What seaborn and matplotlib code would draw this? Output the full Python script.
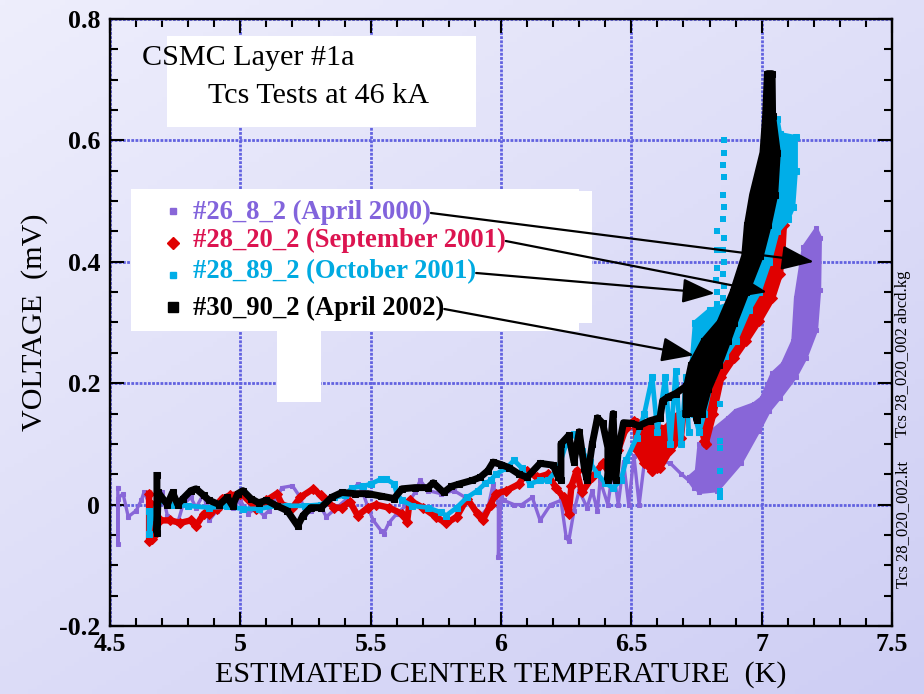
import numpy as np
import pandas as pd
import matplotlib
matplotlib.use("Agg")
import matplotlib.pyplot as plt
from matplotlib.patches import Rectangle
from matplotlib.ticker import MultipleLocator, FuncFormatter
import seaborn as sns

# ---------------------------------------------------------------------------
# Measured traces: (estimated centre temperature [K], voltage [mV])
# "_low" lists are the traced sweeps, "_band" lists outline the dense
# transition region where many samples pile on top of each other.
# ---------------------------------------------------------------------------
series_labels = ["#26_8_2 (April 2000)", "#28_20_2 (September 2001)",
                 "#28_89_2 (October 2001)", "#30_90_2 (April 2002)"]

# Run #26_8_2 (April 2000)
run26_low = [(4.53, 0.028), (4.53, -0.065), (4.53, 0.01), (4.55, 0.018), (4.57, -0.02),
             (4.60, -0.01), (4.62, 0.007), (4.63, 0.02), (4.65, 0.003), (4.67, -0.003),
             (4.70, 0.02), (4.72, -0.018), (4.76, -0.03), (4.78, 0.0), (4.81, 0.012),
             (4.83, -0.005), (4.86, 0.018), (4.88, -0.026), (4.91, -0.01), (4.94, 0.007),
             (4.97, -0.005), (5.00, 0.007), (5.03, -0.015), (5.06, -0.005), (5.09, -0.018),
             (5.11, -0.01), (5.14, 0.012), (5.16, 0.028), (5.20, 0.031), (5.23, 0.012),
             (5.25, -0.015), (5.27, -0.01), (5.31, -0.005), (5.33, -0.02), (5.37, -0.005),
             (5.41, 0.01), (5.45, 0.034), (5.47, 0.02), (5.49, -0.005), (5.51, -0.026),
             (5.54, -0.043), (5.55, -0.048), (5.57, -0.03), (5.60, -0.015), (5.64, 0.0),
             (5.67, 0.02), (5.69, 0.04), (5.72, 0.023), (5.77, 0.018), (5.82, 0.023),
             (5.87, 0.01), (5.92, -0.02), (5.95, -0.005), (5.97, 0.034), (5.99, 0.0),
             (5.99, -0.087), (6.00, 0.018), (6.01, 0.007), (6.05, 0.0), (6.08, 0.0),
             (6.12, 0.012), (6.15, -0.026), (6.19, 0.0), (6.23, 0.007), (6.25, -0.054),
             (6.26, -0.06), (6.28, -0.01), (6.30, 0.023), (6.33, -0.005), (6.35, 0.023),
             (6.37, -0.01), (6.38, 0.04), (6.41, 0.0), (6.43, 0.06), (6.45, 0.0),
             (6.47, 0.07), (6.49, 0.0), (6.51, 0.08), (6.53, 0.0), (6.55, 0.07),
             (6.56, 0.08), (6.60, 0.073), (6.65, 0.068), (6.69, 0.051), (6.72, 0.04),
             (6.74, 0.028)]
run26_band = [(6.72, 0.045), (6.75, 0.056), (6.76, 0.10), (6.81, 0.122), (6.87, 0.143),
              (6.90, 0.155), (6.97, 0.166), (7.00, 0.176), (7.04, 0.216), (7.08, 0.232),
              (7.12, 0.27), (7.13, 0.34), (7.16, 0.424), (7.21, 0.455), (7.225, 0.44),
              (7.222, 0.353), (7.21, 0.287), (7.17, 0.242), (7.13, 0.21), (7.07, 0.176),
              (7.03, 0.155), (6.99, 0.122), (6.92, 0.068), (6.83, 0.023), (6.76, 0.02)]

# Run #28_20_2 (September 2001)
run28s_low = [(4.65, 0.018), (4.65, -0.06), (4.66, -0.056), (4.66, 0.0), (4.67, -0.05),
              (4.69, -0.026), (4.73, -0.026), (4.77, -0.03), (4.81, -0.026), (4.83, -0.035),
              (4.86, -0.015), (4.88, -0.015), (4.91, -0.007), (4.93, 0.01), (4.96, 0.015),
              (5.00, 0.018), (5.03, 0.01), (5.06, -0.008), (5.10, 0.007), (5.14, 0.018),
              (5.16, 0.0), (5.20, -0.005), (5.23, 0.012), (5.28, 0.026), (5.31, 0.015),
              (5.33, 0.007), (5.36, -0.005), (5.39, -0.005), (5.42, 0.005), (5.45, -0.018),
              (5.49, -0.005), (5.52, 0.0), (5.57, -0.005), (5.62, -0.015), (5.64, -0.028),
              (5.65, 0.007), (5.70, -0.005), (5.75, -0.02), (5.79, -0.031), (5.83, -0.02),
              (5.87, 0.01), (5.91, -0.015), (5.93, -0.026), (5.96, 0.0), (5.98, 0.018),
              (6.02, 0.023), (6.07, 0.034), (6.10, 0.056), (6.14, 0.045), (6.18, 0.05),
              (6.21, 0.028), (6.24, 0.012), (6.26, -0.015), (6.27, 0.03), (6.29, 0.056),
              (6.31, 0.02), (6.35, 0.045), (6.39, 0.068), (6.42, 0.05), (6.45, 0.09),
              (6.48, 0.127), (6.51, 0.138), (6.53, 0.094), (6.56, 0.068), (6.58, 0.056),
              (6.60, 0.061), (6.62, 0.085), (6.65, 0.10), (6.67, 0.143), (6.70, 0.15),
              (6.75, 0.166), (6.77, 0.14), (6.78, 0.105), (6.79, 0.19)]
run28s_blob = [(6.52, 0.135), (6.58, 0.13), (6.63, 0.125), (6.67, 0.145), (6.70, 0.15),
               (6.69, 0.11), (6.65, 0.09), (6.61, 0.061), (6.58, 0.056), (6.55, 0.068),
               (6.52, 0.09)]
run28s_band = [(6.785, 0.10), (6.815, 0.15), (6.845, 0.21), (6.895, 0.242), (6.94, 0.27),
               (6.99, 0.303), (7.04, 0.34), (7.07, 0.38), (7.08, 0.42), (7.085, 0.46),
               (7.06, 0.46), (7.04, 0.40), (6.98, 0.34), (6.90, 0.29), (6.83, 0.25),
               (6.78, 0.20), (6.76, 0.14)]

# Run #28_89_2 (October 2001)
run28o_low = [(4.65, -0.01), (4.65, -0.048), (4.66, -0.02), (4.68, 0.0), (4.70, 0.007),
              (4.74, 0.0), (4.80, -0.002), (4.88, -0.005), (4.95, -0.003), (5.01, -0.007),
              (5.07, -0.007), (5.14, -0.002), (5.18, -0.002), (5.25, -0.002), (5.31, 0.0),
              (5.36, 0.012), (5.40, 0.015), (5.43, 0.028), (5.47, 0.03), (5.50, 0.034),
              (5.54, 0.042), (5.56, 0.042), (5.59, 0.034), (5.60, 0.018), (5.62, 0.007),
              (5.66, -0.002), (5.72, -0.005), (5.77, -0.013), (5.79, -0.018), (5.83, -0.005),
              (5.87, 0.012), (5.91, 0.023), (5.94, 0.035), (5.96, 0.04), (5.98, 0.05),
              (6.02, 0.06), (6.05, 0.073), (6.08, 0.06), (6.11, 0.034), (6.15, 0.04),
              (6.18, 0.04), (6.22, 0.06), (6.25, 0.10), (6.28, 0.117), (6.31, 0.089),
              (6.34, 0.07), (6.37, 0.051), (6.40, 0.035), (6.43, 0.028), (6.46, 0.04),
              (6.48, 0.073), (6.52, 0.11), (6.55, 0.15)]
run28o_cluster = [(6.55, 0.15), (6.58, 0.21), (6.60, 0.12), (6.63, 0.21), (6.65, 0.10),
                  (6.67, 0.22), (6.69, 0.10), (6.71, 0.21), (6.72, 0.12)]
run28o_band = [(6.76, 0.12), (6.78, 0.15), (6.81, 0.21), (6.86, 0.245), (6.90, 0.27),
               (6.95, 0.32), (6.99, 0.35), (7.03, 0.40), (7.06, 0.45), (7.10, 0.47),
               (7.12, 0.49), (7.13, 0.55), (7.13, 0.605), (7.07, 0.61), (7.06, 0.635),
               (7.02, 0.60), (6.98, 0.52), (6.94, 0.42), (6.88, 0.33), (6.80, 0.32),
               (6.745, 0.30), (6.73, 0.22), (6.74, 0.15)]
run28o_dots = [(6.855, 0.60), (6.855, 0.58), (6.85, 0.56), (6.855, 0.54), (6.85, 0.51),
               (6.855, 0.49), (6.85, 0.47), (6.855, 0.44), (6.85, 0.42), (6.855, 0.40),
               (6.85, 0.38), (6.855, 0.36), (6.85, 0.34), (6.83, 0.45), (6.83, 0.42),
               (6.83, 0.39), (6.825, 0.37), (6.83, 0.35), (6.83, 0.33), (6.84, 0.166),
               (6.84, 0.105), (6.84, 0.094), (6.84, 0.056), (6.84, 0.023), (6.84, 0.012)]

# Run #30_90_2 (April 2002)
run30_low = [(4.68, 0.048), (4.68, -0.046), (4.685, 0.02), (4.72, 0.0), (4.74, 0.02),
             (4.76, 0.0), (4.78, 0.01), (4.81, 0.023), (4.83, 0.026), (4.86, 0.015),
             (4.88, 0.007), (4.92, 0.0), (4.95, 0.012), (4.97, -0.002), (4.99, 0.018),
             (5.01, 0.023), (5.04, 0.01), (5.07, 0.003), (5.10, 0.007), (5.14, -0.002),
             (5.18, -0.01), (5.22, -0.035), (5.24, -0.018), (5.27, -0.005), (5.31, -0.005),
             (5.35, 0.012), (5.39, 0.02), (5.44, 0.018), (5.49, 0.018), (5.54, 0.014),
             (5.59, 0.01), (5.62, 0.026), (5.67, 0.028), (5.72, 0.028), (5.74, 0.036),
             (5.78, 0.02), (5.81, 0.03), (5.84, 0.034), (5.89, 0.04), (5.92, 0.045),
             (5.95, 0.056), (5.97, 0.07), (6.00, 0.066), (6.03, 0.061), (6.07, 0.05),
             (6.10, 0.045), (6.15, 0.068), (6.20, 0.065), (6.22, 0.045), (6.23, 0.04),
             (6.23, 0.10), (6.26, 0.114), (6.28, 0.07), (6.30, 0.12), (6.32, 0.06),
             (6.33, 0.04), (6.35, 0.10), (6.37, 0.143), (6.39, 0.134), (6.41, 0.094),
             (6.41, 0.04), (6.43, 0.15), (6.44, 0.04), (6.45, 0.09), (6.47, 0.135),
             (6.50, 0.134), (6.53, 0.13), (6.57, 0.138), (6.61, 0.143), (6.62, 0.171),
             (6.64, 0.177), (6.67, 0.183), (6.71, 0.195), (6.74, 0.20), (6.75, 0.14),
             (6.76, 0.20)]
run30_band = [(6.71, 0.15), (6.71, 0.19), (6.73, 0.23), (6.78, 0.27), (6.84, 0.30),
              (6.89, 0.35), (6.935, 0.41), (6.945, 0.46), (6.965, 0.51), (7.005, 0.58),
              (7.015, 0.64), (7.022, 0.71), (7.04, 0.71), (7.042, 0.64), (7.06, 0.58),
              (7.05, 0.51), (7.025, 0.46), (6.995, 0.41), (6.94, 0.35), (6.895, 0.30),
              (6.87, 0.27), (6.835, 0.23), (6.795, 0.19), (6.77, 0.15)]

# Where each legend entry points to on its trace
arrow_targets = [(7.20, 0.40), (7.02, 0.35), (6.82, 0.348), (6.74, 0.246)]

x_ticks = [4.5, 5, 5.5, 6, 6.5, 7, 7.5]
y_ticks = [-0.2, 0, 0.2, 0.4, 0.6, 0.8]


def strokes_frame(*strokes):
    rows = []
    for k, stroke in enumerate(strokes):
        for i, (t, v) in enumerate(stroke):
            rows.append({"T": t, "V": v, "stroke": k, "i": i})
    return pd.DataFrame(rows)


def closed(poly):
    return list(poly) + [poly[0]]


W, H = 924, 694
fig = plt.figure(figsize=(W / 100, H / 100), dpi=100)


def fx(px):
    return px / W


def fy(py):
    return 1 - py / H


# soft lavender backdrop, lighter towards the upper left
bg = fig.add_axes([0, 0, 1, 1], zorder=-10)
gx, gy = np.meshgrid(np.linspace(0, 1, 200), np.linspace(0, 1, 150))
t = (gx * 0.45 + gy * 0.55)[..., None]
c0 = np.array([238, 238, 252]) / 255
c1 = np.array([206, 206, 244]) / 255
bg.imshow(c0 + (c1 - c0) * t, aspect="auto", extent=[0, 1, 0, 1], origin="upper")
bg.set_axis_off()

ax = fig.add_axes([fx(110), fy(626), fx(892 - 110), (626 - 19) / H])
ax.set_facecolor("none")

serif = ["Liberation Serif", "DejaVu Serif"]

purple, red, cyan, black = "#8866d8", "#e00000", "#00aee8", "#000000"


def draw_run(strokes, bands, color, lw, marker, ms, z):
    for band in bands:
        xs, ys = zip(*band)
        ax.fill(xs, ys, color=color, lw=0, zorder=z)
    d = strokes_frame(*strokes, *[closed(b) for b in bands])
    sns.lineplot(data=d, x="T", y="V", units="stroke", estimator=None, sort=False,
                 color=color, lw=lw, marker=marker, ms=ms, mec=color, ax=ax,
                 legend=False, zorder=z)


draw_run([run26_low], [run26_band], purple, 2.4, "s", 3.2, 3)
draw_run([run28s_low], [run28s_blob, run28s_band], red, 4.6, "D", 4.8, 4)
draw_run([run28o_low, run28o_cluster], [run28o_band], cyan, 3.4, "s", 4.2, 5)
dots = pd.DataFrame(run28o_dots, columns=["T", "V"])
sns.scatterplot(data=dots, x="T", y="V", marker="s", s=18, color=cyan, linewidth=0,
                ax=ax, legend=False, zorder=5)
draw_run([run30_low], [run30_band], black, 5.0, "s", 4.5, 6)

# axes, ticks, grid
ax.set_xlim(4.5, 7.5)
ax.set_ylim(-0.2, 0.8)
ax.set_xticks(x_ticks)
ax.set_yticks(y_ticks)
ax.xaxis.set_minor_locator(MultipleLocator(0.1))
ax.yaxis.set_minor_locator(MultipleLocator(0.05))
fmt = FuncFormatter(lambda v, p: f"{v:g}")
ax.xaxis.set_major_formatter(fmt)
ax.yaxis.set_major_formatter(fmt)
ax.tick_params(which="both", direction="in", top=True, right=True, width=1.5,
               color="black")
ax.tick_params(which="major", length=10)
ax.tick_params(which="minor", length=5.5)
ax.tick_params(axis="y", which="major", pad=7)
ax.tick_params(axis="x", which="major", pad=5)
for lab in ax.get_xticklabels() + ax.get_yticklabels():
    lab.set_fontfamily(serif)
    lab.set_fontweight("bold")
    lab.set_fontsize(18.6)
for sp in ax.spines.values():
    sp.set_linewidth(1.7)
    sp.set_color("black")
ax.grid(True, which="major", color="#6262e0", lw=2.0, ls=(0, (1, 0.5)), zorder=1)
ax.set_axisbelow(True)

ax.set_xlabel("ESTIMATED CENTER TEMPERATURE  (K)", fontfamily=serif, fontsize=21.7,
              labelpad=4)
ax.set_ylabel("VOLTAGE  (mV)", fontfamily=serif, fontsize=21.7, labelpad=8)

# white annotation panels
for (x0, y0, x1, y1) in [(167, 36, 476, 127), (131, 189, 579, 331),
                         (579, 191, 592, 323), (277, 331, 321, 402)]:
    ax.add_patch(Rectangle((fx(x0), fy(y1)), fx(x1 - x0), (y1 - y0) / H,
                           transform=fig.transFigure, facecolor="white",
                           edgecolor="none", zorder=7, clip_on=False))

fig.text(fx(142), fy(58), "CSMC Layer #1a", fontfamily=serif, fontsize=21.7,
         va="center", ha="left", zorder=8)
fig.text(fx(208), fy(96), "Tcs Tests at 46 kA", fontfamily=serif, fontsize=21.7,
         va="center", ha="left", zorder=8)

# legend entries with leader arrows
legend_colors = ["#8264dc", "#dc1450", "#00aae1", "#000000"]
legend_markers = [("s", purple, 4), ("D", red, 6), ("s", cyan, 5), ("s", black, 7)]
text_y = [212, 240, 272, 308]
marker_y = [211, 243, 275, 307]
for lab, col, (mk, mcol, msz), ty, my, tgt in zip(series_labels, legend_colors,
                                                     legend_markers, text_y, marker_y,
                                                     arrow_targets):
    ax.plot([fx(173)], [fy(my)], marker=mk, color=mcol, ms=msz, mec=mcol,
            transform=fig.transFigure, zorder=9, clip_on=False, ls="none")
    txt = fig.text(fx(193), fy(ty), lab, fontfamily=serif, fontweight="bold",
                   fontsize=19.2, color=col, va="center", ha="left", zorder=9)
    fig.canvas.draw()
    bb = txt.get_window_extent()
    ax.annotate("", xy=tgt, xycoords="data",
                xytext=(bb.x1 / W, fy(ty + 1)), textcoords="figure fraction",
                arrowprops=dict(arrowstyle="-|>,head_length=1.0,head_width=0.38",
                                color="black", lw=1.6, shrinkA=0, shrinkB=0,
                                mutation_scale=20),
                zorder=10)

# file tags along the right edge
fig.text(fx(903), fy(354), "Tcs 28_020_002 abcd.kg", fontfamily=serif, fontsize=12,
         rotation=90, ha="center", va="center")
fig.text(fx(903), fy(524), "Tcs 28_020_002.kt", fontfamily=serif, fontsize=12,
         rotation=90, ha="center", va="center")

fig.savefig("out.png", dpi=100)
